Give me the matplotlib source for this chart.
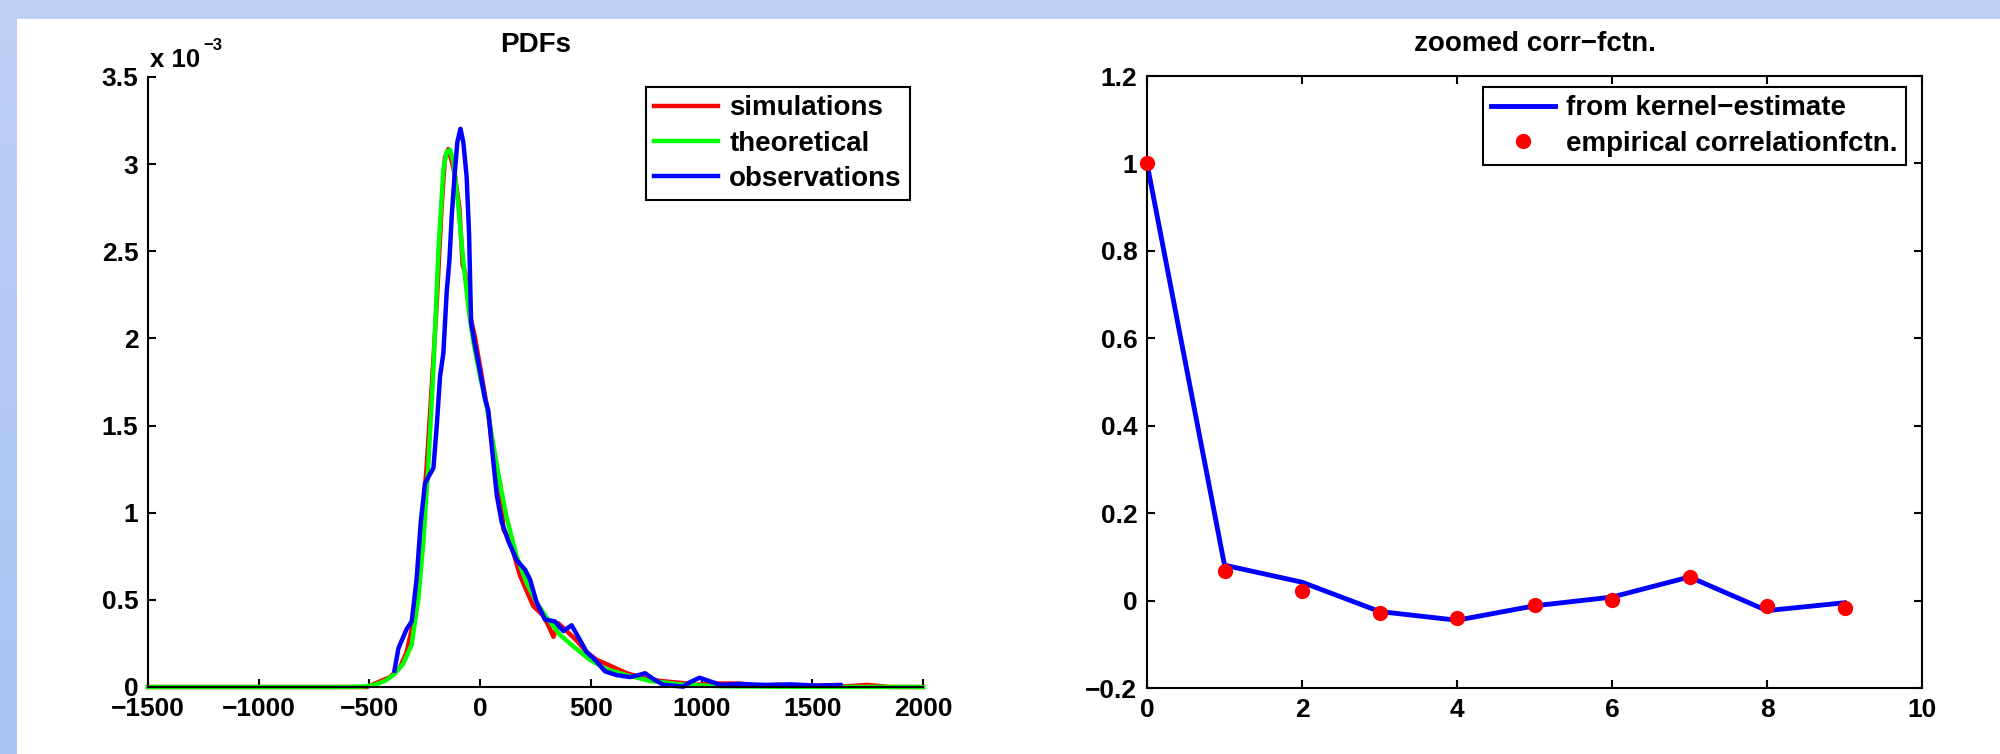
import numpy as np
import matplotlib
matplotlib.use("Agg")
import matplotlib.pyplot as plt
from matplotlib.patches import Rectangle
from matplotlib.ticker import FuncFormatter

# ---------------- data ----------------
# PDFs, y in units of 1e-3
sim_x = [-1500, -1000, -600, -512, -467, -407, -362, -332, -309, -287, -264, -241, -219,
         -196, -174, -159, -144, -128, -113, -94, -79, -68, -46, -23, 7, 37, 67, 90, 105,
         135, 180, 210, 240, 285, 308, 331, 353, 391, 436, 481, 526, 586, 662, 752, 812,
         903, 978, 1050, 1172, 1250, 1350, 1450, 1550, 1650, 1748, 1850, 2000]
sim_y = [0, 0, 0, 0.0, 0.024, 0.057, 0.112, 0.2, 0.332, 0.552, 0.904, 1.278, 1.718,
         2.202, 2.752, 3.038, 3.086, 3.016, 2.928, 2.752, 2.422, 2.378, 2.136, 2.004, 1.784,
         1.564, 1.256, 1.168, 0.904, 0.838, 0.64, 0.552, 0.464, 0.409, 0.354, 0.288, 0.365,
         0.321, 0.266, 0.2, 0.156, 0.123, 0.079, 0.046, 0.035, 0.024, 0.013, 0.02, 0.02,
         0.008, 0.012, 0.005, 0.01, 0.004, 0.012, 0.0, 0.0]

theo_x = [-1500, -1000, -600, -520, -470, -430, -392, -347, -309, -279, -256, -234, -211,
          -189, -166, -151, -136, -121, -98, -76, -53, -31, 0, 30, 60, 90, 120, 165, 210,
          255, 300, 361, 421, 496, 571, 662, 767, 918, 1100, 1400, 2000]
theo_y = [0, 0, 0, 0.003, 0.015, 0.035, 0.068, 0.134, 0.244, 0.508, 0.838, 1.278, 1.828,
          2.488, 2.972, 3.071, 3.082, 3.016, 2.752, 2.444, 2.18, 1.982, 1.78, 1.608, 1.388,
          1.168, 0.97, 0.75, 0.596, 0.486, 0.398, 0.299, 0.233, 0.156, 0.101, 0.068, 0.035,
          0.013, 0.004, 0.001, 0.0]

obs_x = [-387, -369, -332, -309, -287, -268, -249, -226, -211, -196, -181, -166, -151,
         -139, -128, -116, -103, -89, -76, -61, -50, -41, -23, 0, 22, 37, 52, 75, 97, 127,
         165, 203, 225, 255, 293, 338, 376, 413, 443, 481, 519, 564, 617, 677, 714, 745,
         782, 827, 918, 948, 991, 1086, 1172, 1288, 1403, 1518, 1627]
obs_y = [0.094, 0.222, 0.332, 0.376, 0.618, 0.948, 1.168, 1.223, 1.256, 1.498, 1.784,
         1.916, 2.268, 2.444, 2.708, 2.928, 3.126, 3.203, 3.126, 2.928, 2.598, 2.092, 1.96,
         1.806, 1.652, 1.586, 1.388, 1.102, 0.948, 0.838, 0.728, 0.673, 0.618, 0.486, 0.387,
         0.376, 0.321, 0.354, 0.288, 0.2, 0.156, 0.09, 0.068, 0.057, 0.068, 0.079, 0.046,
         0.013, 0.002, 0.028, 0.053, 0.012, 0.017, 0.012, 0.015, 0.008, 0.012]

# zoomed correlation function
lags = [0, 1, 2, 3, 4, 5, 6, 7, 8, 9]
kernel_corr = [1.0, 0.081, 0.042, -0.025, -0.045, -0.012, 0.008, 0.054, -0.023, -0.005]
emp_corr = [1.0, 0.067, 0.023, -0.028, -0.041, -0.009, 0.002, 0.054, -0.012, -0.017]

left_xticks = [-1500, -1000, -500, 0, 500, 1000, 1500, 2000]
left_yticks = [0, 0.5, 1, 1.5, 2, 2.5, 3, 3.5]
right_xticks = [0, 2, 4, 6, 8, 10]
right_yticks = [-0.2, 0, 0.2, 0.4, 0.6, 0.8, 1.0, 1.2]

# ---------------- style ----------------
W, H = 2000, 754
FONT = "Liberation Sans"
FS_TICK = 19
FS_TEXT = 20
plt.rcParams["font.family"] = [FONT, "DejaVu Sans"]
plt.rcParams["font.weight"] = "bold"
plt.rcParams["axes.linewidth"] = 1.5

def fmt(v, pos=None):
    s = "%g" % v
    return s.replace("-", "\u2212")

fig = plt.figure(figsize=(W / 100, H / 100), dpi=100)

# background: light-blue gradient with white panel
bg = fig.add_axes([0, 0, 1, 1], zorder=-10)
top_c = np.array([189, 208, 246]) / 255
bot_c = np.array([168, 195, 244]) / 255
t = np.linspace(0, 1, 256)[:, None]
grad = (top_c[None, :] * (1 - t) + bot_c[None, :] * t)[:, None, :]
bg.imshow(grad, extent=[0, 1, 0, 1], aspect="auto", origin="upper")
bg.add_patch(Rectangle((17 / W, 0), 1, (H - 19) / H, facecolor="white", edgecolor="none"))
bg.set_xlim(0, 1)
bg.set_ylim(0, 1)
bg.axis("off")

def px_axes(x0, x1, ytop, ybot):
    return [x0 / W, (H - ybot) / H, (x1 - x0) / W, (ybot - ytop) / H]

legend_kw = dict(borderaxespad=0, fancybox=False, edgecolor="black", framealpha=1,
                 fontsize=FS_TEXT, handlelength=2.3, handletextpad=0.4,
                 labelspacing=0.33, borderpad=0.3)

# ---------------- left: PDFs ----------------
ax1 = fig.add_axes(px_axes(148, 923, 77, 687))
ax1.plot(sim_x, sim_y, color=(1, 0, 0), lw=3.2, label="simulations", clip_on=False)
ax1.plot(theo_x, theo_y, color=(0, 1, 0), lw=3.2, label="theoretical", clip_on=False)
ax1.plot(obs_x, obs_y, color=(0, 0, 1), lw=3.2, label="observations", clip_on=False)
ax1.set_xlim(-1500, 2000)
ax1.set_ylim(0, 3.5)
ax1.set_xticks(left_xticks)
ax1.set_yticks(left_yticks)
ax1.xaxis.set_major_formatter(FuncFormatter(fmt))
ax1.yaxis.set_major_formatter(FuncFormatter(fmt))
ax1.spines["top"].set_visible(False)
ax1.spines["right"].set_visible(False)
ax1.tick_params(direction="in", length=6, width=1.5, labelsize=FS_TICK, pad=7)
ax1.set_title("PDFs", fontsize=FS_TEXT, fontweight="bold", pad=18)
leg1 = ax1.legend(loc="upper left", bbox_to_anchor=(0.6426, 0.9836), **legend_kw)
leg1.get_frame().set_linewidth(1.5)
fig.text(150 / W, (H - 67) / H, "x 10", fontsize=18.5, fontweight="bold", ha="left", va="baseline")
fig.text(203 / W, (H - 50) / H, "\u22123", fontsize=12, fontweight="bold", ha="left", va="baseline")

# ---------------- right: zoomed corr-fctn ----------------
ax2 = fig.add_axes(px_axes(1147, 1922, 76, 688))
ax2.plot(lags, kernel_corr, color=(0, 0, 1), lw=3.5, label="from kernel\u2212estimate", clip_on=False)
ax2.plot(lags, emp_corr, "o", color=(1, 0, 0), markersize=11, markeredgewidth=0,
         label="empirical correlationfctn.", clip_on=False, zorder=5)
ax2.set_xlim(0, 10)
ax2.set_ylim(-0.2, 1.2)
ax2.set_xticks(right_xticks)
ax2.set_yticks(right_yticks)
ax2.xaxis.set_major_formatter(FuncFormatter(fmt))
ax2.yaxis.set_major_formatter(FuncFormatter(fmt))
ax2.tick_params(direction="in", length=6, width=1.5, labelsize=FS_TICK, pad=7, top=True, right=True)
ax2.set_title("zoomed corr\u2212fctn.", fontsize=FS_TEXT, fontweight="bold", pad=18)
leg2 = ax2.legend(loc="upper left", bbox_to_anchor=(0.4335, 0.982), **legend_kw)
leg2.get_frame().set_linewidth(1.5)

fig.savefig("out.png", dpi=100)
